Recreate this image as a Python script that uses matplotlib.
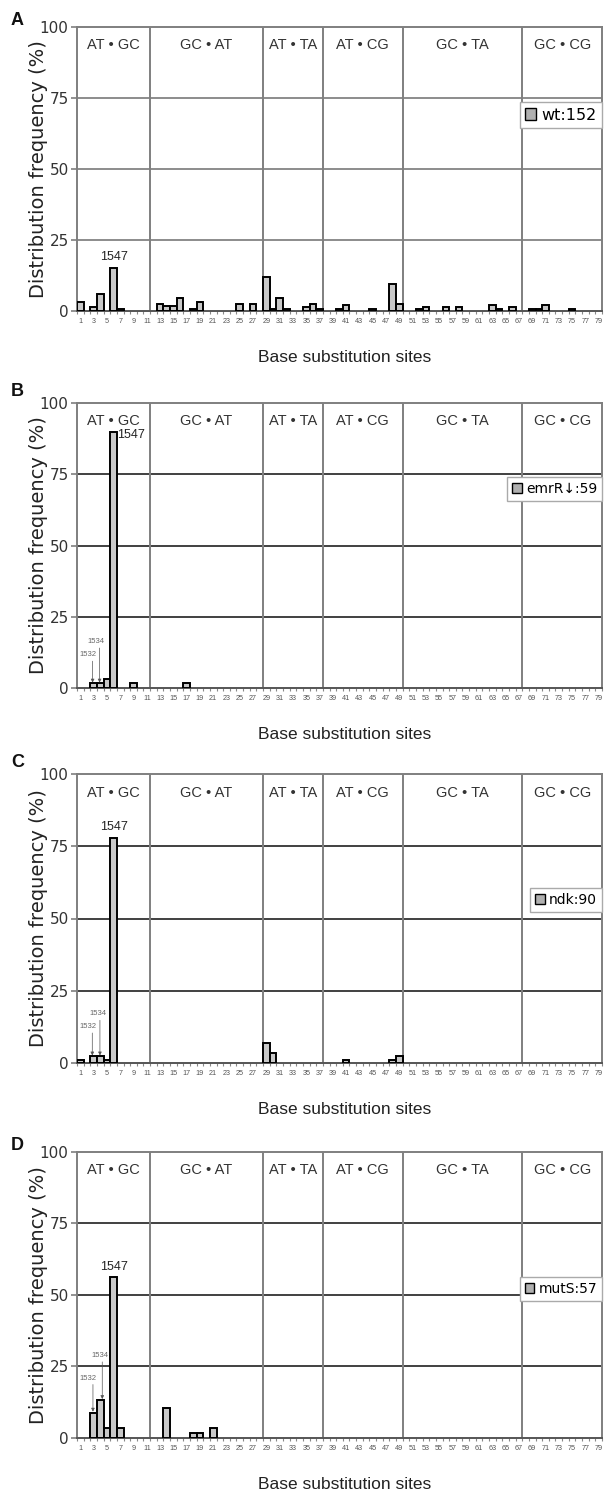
import matplotlib
matplotlib.use('Agg')
import matplotlib.pyplot as plt
from matplotlib.patches import Patch

plt.rcParams['font.family'] = ['Liberation Sans', 'DejaVu Sans']

# eje x: sitios de sustitucion 1..79, etiquetas en impares
tick_sites = list(range(1, 80, 2))
edge_sites = [s + 0.5 for s in range(0, 80)]

sections = ['AT • GC', 'GC • AT', 'AT • TA', 'AT • CG', 'GC • TA', 'GC • CG']
section_edges = [0.5, 11.5, 28.5, 37.5, 49.5, 67.5, 79.5]

# A: wt
wt_sites = [1, 3, 4, 6, 7, 13, 14, 15, 16, 18, 19, 25, 27, 29, 30, 31, 32, 35, 36, 37,
            40, 41, 45, 48, 49, 52, 53, 56, 58, 63, 64, 66, 69, 70, 71, 75]
wt_vals = [3.3, 1.3, 5.9, 15.1, 0.7, 2.6, 1.6, 1.6, 4.6, 0.8, 3.3, 2.6, 2.6, 11.8, 0.7, 4.6,
           0.7, 1.3, 2.6, 0.7, 0.7, 2.0, 0.7, 9.5, 2.6, 0.7, 1.3, 1.3, 1.3, 2.0, 0.8, 1.3,
           0.7, 0.7, 2.0, 0.7]

# B: emrR
emr_sites = [3, 4, 5, 6, 9, 17]
emr_vals = [1.7, 1.7, 3.4, 89.8, 1.7, 1.7]

# C: ndk
ndk_sites = [1, 3, 4, 5, 6, 29, 30, 41, 48, 49]
ndk_vals = [1.1, 2.2, 2.2, 1.1, 77.8, 6.7, 3.3, 1.1, 1.1, 2.2]

# D: mutS
mut_sites = [3, 4, 5, 6, 7, 14, 18, 19, 21]
mut_vals = [8.8, 13.2, 3.5, 56.1, 3.5, 10.5, 1.75, 1.75, 3.5]

W, H = 605, 1493
fig = plt.figure(figsize=(W / 100, H / 100), dpi=100)


def px_rect(top, bottom, left=77, right=602):
    return [left / W, 1 - bottom / H, (right - left) / W, (bottom - top) / H]


def panel(rect, sites, vals, legend_text, legend_top, grid_color, legend_size):
    ax = fig.add_axes(rect)
    ax.set_xlim(0.5, 79.5)
    ax.set_ylim(0, 100)
    for y in [25, 50, 75]:
        ax.axhline(y, color=grid_color, lw=1.4, zorder=1)
    for e in section_edges[1:-1]:
        ax.axvline(e, color='#7f7f7f', lw=1.4, zorder=1)
    ax.bar(sites, vals, width=1.0, color='#c8c8c8', edgecolor='black',
           linewidth=1.4, zorder=3)
    for i, name in enumerate(sections):
        c = (section_edges[i] + section_edges[i + 1]) / 2
        ax.text(c, 93.5, name, ha='center', va='center', fontsize=10.5, color='#333333')

    for sp in ax.spines.values():
        sp.set_color('#7f7f7f')
        sp.set_linewidth(1.4)
    ax.spines['bottom'].set_color('#555555')

    ax.set_yticks([0, 25, 50, 75, 100])
    ax.set_yticklabels(['0', '25', '50', '75', '100'], fontfamily='DejaVu Sans',
                       fontsize=11, color='#333333')
    ax.tick_params(axis='y', length=4, width=1.2, color='#7f7f7f', pad=2)

    ax.set_xticks(edge_sites)
    ax.set_xticklabels([])
    ax.set_xticks(tick_sites, minor=True)
    ax.set_xticklabels([str(s) for s in tick_sites], minor=True)
    ax.tick_params(axis='x', which='major', length=2, width=0.8, color='#888888')
    ax.tick_params(axis='x', which='minor', length=0, labelsize=5.2,
                   labelcolor='#555555', pad=5)

    ax.text(-0.074, 0.5, 'Distribution frequency (%)', transform=ax.transAxes,
            rotation=90, ha='center', va='center', fontsize=14,
            fontfamily='DejaVu Sans', color='#222222')
    ax.text(0.51, -0.162, 'Base substitution sites', transform=ax.transAxes,
            ha='center', va='center', fontsize=12.5, color='#222222')

    handle = Patch(facecolor='#b0b0b0', edgecolor='black', linewidth=1.0)
    ax.legend([handle], [legend_text], loc='upper right',
              bbox_to_anchor=(1.0, legend_top), borderaxespad=0, fancybox=False,
              edgecolor='#aaaaaa', framealpha=1, handlelength=0.7, handleheight=0.7,
              handletextpad=0.3, borderpad=0.35, prop={'family': 'DejaVu Sans',
                                                       'size': legend_size})
    return ax


def small_marks(ax, tx1, ty1, tx2, ty2, x1, x2, top1, top2):
    fam = ['Liberation Sans Narrow', 'Liberation Sans']
    ax.text(tx1, ty1, '1532', ha='center', va='center', fontsize=5.5,
            color='#666666', family=fam)
    ax.text(tx2, ty2, '1534', ha='center', va='center', fontsize=5.5,
            color='#666666', family=fam)
    for x, ty, top in [(x1, ty1, top1), (x2, ty2, top2)]:
        ax.annotate('', xy=(x, top + 0.3), xytext=(x, ty - 2.2),
                    arrowprops=dict(arrowstyle='-|>', color='#555555', lw=0.5,
                                    mutation_scale=5, shrinkA=0, shrinkB=0),
                    zorder=4)


axA = panel(px_rect(27, 311), wt_sites, wt_vals, 'wt:152', 0.736, '#8c8c8c', 11.5)
axA.text(6, 19, '1547', ha='center', va='center', fontsize=9, color='#222222')

axB = panel(px_rect(402.7, 688.3), emr_sites, emr_vals, 'emrR↓:59', 0.74, '#404040', 10)
axB.text(6.55, 88.7, '1547', ha='left', va='center', fontsize=9, color='#222222')
small_marks(axB, 2.2, 11.7, 3.3, 16.3, 2.85, 3.9, emr_vals[0], emr_vals[1])

axC = panel(px_rect(774.3, 1062.7), ndk_sites, ndk_vals, 'ndk:90', 0.606, '#404040', 10)
axC.text(6, 81.8, '1547', ha='center', va='center', fontsize=9, color='#222222')
small_marks(axC, 2.1, 12.5, 3.6, 16.9, 2.8, 3.95, ndk_vals[1], ndk_vals[2])

axD = panel(px_rect(1151.7, 1437.7), mut_sites, mut_vals, 'mutS:57', 0.562, '#404040', 10)
axD.text(6, 59.8, '1547', ha='center', va='center', fontsize=9, color='#222222')
small_marks(axD, 2.2, 20.8, 3.95, 28.7, 2.9, 4.3, mut_vals[0], mut_vals[1])

for letter, ybot in [('A', 25), ('B', 396), ('C', 767), ('D', 1150)]:
    fig.text(11 / W, 1 - ybot / H, letter, ha='left', va='baseline',
             fontsize=13, fontweight='bold', color='#111111')

fig.savefig('out.png', dpi=100)
